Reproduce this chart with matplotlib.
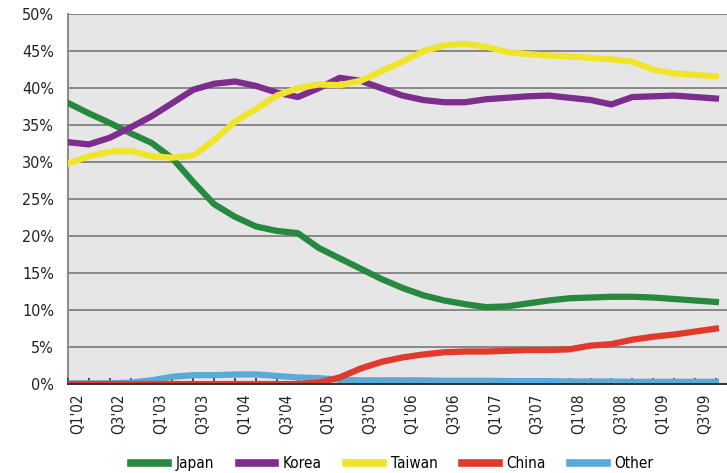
import numpy as np
import matplotlib
matplotlib.use('Agg')
import matplotlib.pyplot as plt

# quarters Q1'02 .. Q4'09
quarters = [f"Q{q}'{y:02d}" for y in range(2, 10) for q in range(1, 5)]

japan = [38.0, 36.6, 35.3, 33.9, 32.6, 30.5, 27.3, 24.3, 22.6, 21.3, 20.7, 20.4,
         18.4, 17.0, 15.6, 14.2, 13.0, 12.0, 11.3, 10.8, 10.4, 10.5, 10.9, 11.3,
         11.6, 11.7, 11.8, 11.8, 11.7, 11.5, 11.3, 11.1]
korea = [32.7, 32.4, 33.3, 34.7, 36.2, 38.0, 39.8, 40.6, 40.9, 40.3, 39.4, 38.8,
         40.0, 41.4, 41.0, 40.0, 39.0, 38.4, 38.1, 38.1, 38.5, 38.7, 38.9, 39.0,
         38.7, 38.4, 37.8, 38.8, 38.9, 39.0, 38.8, 38.6]
taiwan = [29.8, 30.8, 31.4, 31.5, 30.8, 30.6, 30.9, 33.0, 35.5, 37.2, 39.0, 40.0,
          40.5, 40.4, 41.0, 42.3, 43.6, 45.0, 45.8, 46.0, 45.6, 44.9, 44.6, 44.4,
          44.3, 44.1, 43.9, 43.6, 42.5, 42.0, 41.8, 41.6]
china = [0.0, 0.0, 0.0, 0.0, 0.0, 0.0, 0.0, 0.0, 0.0, 0.0, 0.0, 0.0,
         0.2, 0.9, 2.1, 3.0, 3.6, 4.0, 4.3, 4.4, 4.4, 4.5, 4.6, 4.6,
         4.7, 5.2, 5.4, 6.0, 6.4, 6.7, 7.1, 7.5]
other = [0.1, 0.1, 0.1, 0.2, 0.5, 1.0, 1.2, 1.2, 1.3, 1.3, 1.1, 0.9,
         0.8, 0.6, 0.5, 0.5, 0.5, 0.5, 0.45, 0.45, 0.45, 0.4, 0.4, 0.4,
         0.35, 0.35, 0.35, 0.3, 0.3, 0.3, 0.3, 0.3]

series = [
    ('Japan', japan, '#27893f'),
    ('Korea', korea, '#7e2c8e'),
    ('Taiwan', taiwan, '#f0e52c'),
    ('China', china, '#df3a2c'),
    ('Other', other, '#5ba9d6'),
]
yticks = list(range(0, 55, 5))

plt.rcParams['font.family'] = ['Liberation Sans Narrow', 'DejaVu Sans']
plt.rcParams['font.stretch'] = 'condensed'

fig = plt.figure(figsize=(7.27, 4.73), dpi=100)
ax = fig.add_axes([0.0935, 0.188, 0.9065, 0.782])
ax.set_facecolor('#e6e6e6')

x = np.arange(len(quarters))
# gridlines under the data
for v in yticks[1:]:
    ax.axhline(v, color='#888888', linewidth=1.4, zorder=1)

z = {'Japan': 3, 'Korea': 3.1, 'Taiwan': 3.2, 'Other': 3.3, 'China': 3.4}
for name, vals, col in series:
    ax.plot(x, vals, color=col, linewidth=4.5, label=name, zorder=z[name])

# plot is cut at the right edge a bit past the last quarter
ax.set_xlim(0, 31.53)
ax.set_ylim(0, 50)
ax.set_yticks(yticks)
ax.set_yticklabels([f'{v}%' for v in yticks], fontsize=11.5, color='#222222')
ax.tick_params(axis='y', length=0, pad=10)

ax.set_xticks(x)
ax.set_xticklabels([])
ax.set_xticks(x[::2] + 0.45, minor=True)
ax.set_xticklabels(quarters[::2], minor=True, rotation=90, fontsize=11,
                   color='#222222')
ax.tick_params(axis='x', which='major', direction='in', length=4,
               width=1.2, color='#333333', zorder=5)
ax.tick_params(axis='x', which='minor', length=0, pad=7)
ax.set_axisbelow(False)

for s in ['top', 'right']:
    ax.spines[s].set_visible(False)
ax.spines['left'].set_color('#888888')
ax.spines['left'].set_linewidth(1.4)
ax.spines['bottom'].set_color('#333333')
ax.spines['bottom'].set_linewidth(1.4)
ax.spines['bottom'].set_zorder(5)
ax.axhline(50, color='#888888', linewidth=1.4, zorder=1)

leg = fig.legend(loc='lower center', bbox_to_anchor=(0.54, -0.025), ncol=5,
                 frameon=False, fontsize=11, handlelength=2.4,
                 columnspacing=1.6, handletextpad=0.5)
for line in leg.get_lines():
    line.set_linewidth(5.5)

fig.savefig('out.png', dpi=100)
